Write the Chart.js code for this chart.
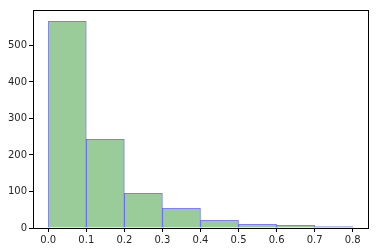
<!DOCTYPE html>
<html>
<head>
<meta charset="utf-8">
<script src="https://cdn.jsdelivr.net/npm/chart.js@4"></script>
<style>
  html, body { margin: 0; padding: 0; background: #fff; }
  #wrap { width: 378px; height: 252px; }
</style>
</head>
<body>
<div id="wrap"><canvas id="hist"></canvas></div>
<script>
// histogram bins (left edges) and counts
const binEdges = [0.0, 0.1, 0.2, 0.3, 0.4, 0.5, 0.6, 0.7, 0.8];
const counts = [566, 243, 95, 54, 21, 10, 7, 4];
const xTicks = [0.0, 0.1, 0.2, 0.3, 0.4, 0.5, 0.6, 0.7, 0.8];
const yTicks = [0, 100, 200, 300, 400, 500];

Chart.defaults.font.family = "'DejaVu Sans', sans-serif";
Chart.defaults.font.size = 10;
Chart.defaults.color = '#262626';

// draw the full box around the plot like matplotlib spines
const frame = {
    id: 'frame',
    afterDraw(chart) {
        const { ctx, chartArea: a } = chart;
        ctx.save();
        ctx.strokeStyle = '#000';
        ctx.lineWidth = 1;
        ctx.strokeRect(Math.round(a.left) + 0.5, Math.round(a.top) + 0.5,
            Math.round(a.right - a.left), Math.round(a.bottom - a.top));
        ctx.restore();
    }
};

const points = counts.map((c, i) => ({ x: (binEdges[i] + binEdges[i + 1]) / 2, y: c }));

new Chart(document.getElementById('hist'), {
    type: 'bar',
    data: {
        datasets: [{
            data: points,
            backgroundColor: '#99cc99',
            borderColor: 'rgba(40,40,240,0.6)',
            borderWidth: 1,
            barPercentage: 1,
            categoryPercentage: 1
        }]
    },
    options: {
        responsive: true,
        maintainAspectRatio: false,
        animation: false,
        layout: { padding: { left: 0, right: 10, top: 10, bottom: 0 } },
        plugins: { legend: { display: false }, tooltip: { enabled: false } },
        scales: {
            x: {
                type: 'linear',
                offset: false,
                min: -0.04,
                max: 0.84,
                afterBuildTicks: s => { s.ticks = xTicks.map(v => ({ value: v })); },
                afterFit: s => { s.height = 24; },
                ticks: { callback: v => v.toFixed(1), padding: 2, maxRotation: 0 },
                grid: { offset: false, drawOnChartArea: false, tickLength: 4, color: '#000' },
                border: { display: false }
            },
            y: {
                min: 0,
                max: 597,
                afterBuildTicks: s => { s.ticks = yTicks.map(v => ({ value: v })); },
                afterFit: s => { s.width = 33; },
                ticks: { padding: 2 },
                grid: { offset: false, drawOnChartArea: false, tickLength: 4, color: '#000' },
                border: { display: false }
            }
        }
    },
    plugins: [frame]
});
</script>
</body>
</html>
